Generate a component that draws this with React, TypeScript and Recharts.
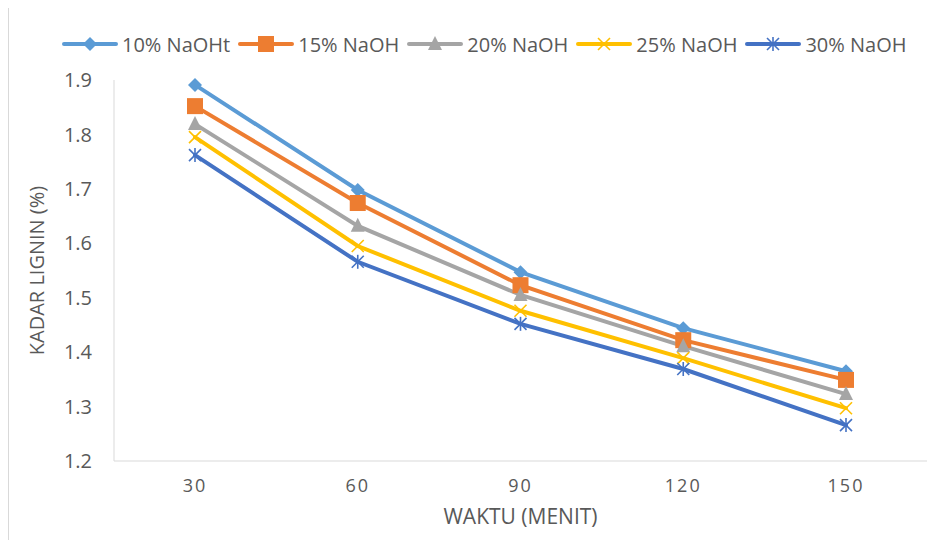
import React from "react";
import { LineChart, Line, XAxis, YAxis } from "recharts";

const minutes = ["30", "60", "90", "120", "150"];
const naoh10 = [1.891, 1.698, 1.547, 1.444, 1.365];
const naoh15 = [1.852, 1.674, 1.523, 1.422, 1.349];
const naoh20 = [1.819, 1.632, 1.505, 1.411, 1.323];
const naoh25 = [1.795, 1.595, 1.476, 1.389, 1.297];
const naoh30 = [1.762, 1.566, 1.452, 1.369, 1.266];
const yTicks = [1.2, 1.3, 1.4, 1.5, 1.6, 1.7, 1.8, 1.9];

const data = minutes.map((m, i) => ({
    waktu: m,
    s10: naoh10[i],
    s15: naoh15[i],
    s20: naoh20[i],
    s25: naoh25[i],
    s30: naoh30[i],
}));

const FONT = "'Open Sans', sans-serif";
const TEXT = "#595959";

type Shape = "diamond" | "square" | "triangle" | "x" | "star";

const series: { key: string; name: string; color: string; shape: Shape }[] = [
    { key: "s10", name: "10% NaOHt", color: "#5B9BD5", shape: "diamond" },
    { key: "s15", name: "15% NaOH", color: "#ED7D31", shape: "square" },
    { key: "s20", name: "20% NaOH", color: "#A5A5A5", shape: "triangle" },
    { key: "s25", name: "25% NaOH", color: "#FFC000", shape: "x" },
    { key: "s30", name: "30% NaOH", color: "#4472C4", shape: "star" },
];

function Marker({ cx, cy, shape, color }: { cx: number; cy: number; shape: Shape; color: string }) {
    if (shape === "diamond") {
        const r = 7;
        return <polygon points={`${cx},${cy - r} ${cx + r},${cy} ${cx},${cy + r} ${cx - r},${cy}`} fill={color} />;
    }
    if (shape === "square") {
        return <rect x={cx - 8} y={cy - 8} width={16} height={16} fill={color} />;
    }
    if (shape === "triangle") {
        return <polygon points={`${cx},${cy - 8} ${cx + 7},${cy + 6} ${cx - 7},${cy + 6}`} fill={color} />;
    }
    if (shape === "x") {
        return (
            <g stroke={color} strokeWidth={1.6}>
                <line x1={cx - 6} y1={cy - 6} x2={cx + 6} y2={cy + 6} />
                <line x1={cx - 6} y1={cy + 6} x2={cx + 6} y2={cy - 6} />
            </g>
        );
    }
    return (
        <g stroke={color} strokeWidth={1.6}>
            <line x1={cx - 6} y1={cy - 6} x2={cx + 6} y2={cy + 6} />
            <line x1={cx - 6} y1={cy + 6} x2={cx + 6} y2={cy - 6} />
            <line x1={cx} y1={cy - 7} x2={cx} y2={cy + 7} />
        </g>
    );
}

function LegendRow() {
    return (
        <div
            style={{
                position: "absolute",
                top: 30,
                left: 62,
                display: "flex",
                fontFamily: FONT,
                fontSize: 20,
                color: TEXT,
                whiteSpace: "nowrap",
            }}
        >
            {series.map((s) => (
                <div key={s.key} style={{ display: "flex", alignItems: "center", marginRight: 8 }}>
                    <svg width={56} height={28} style={{ marginRight: 4 }}>
                        <line x1={2} y1={14} x2={54} y2={14} stroke={s.color} strokeWidth={4} strokeLinecap="round" />
                        <Marker cx={28} cy={14} shape={s.shape} color={s.color} />
                    </svg>
                    <span>{s.name}</span>
                </div>
            ))}
        </div>
    );
}

export default function App() {
    return (
        <div style={{ position: "relative", margin: -8, width: 949, height: 548, background: "#fff" }}>
            <div style={{ position: "absolute", left: 8, top: 0, width: 1, height: 548, background: "#d9d9d9" }} />
            <LineChart width={949} height={548} data={data} margin={{ top: 80, right: 22, bottom: 57, left: 10 }}>
                <XAxis
                    dataKey="waktu"
                    height={30}
                    padding={{ left: 81, right: 81 }}
                    axisLine={{ stroke: "#d9d9d9" }}
                    tickLine={false}
                    tickSize={0}
                    tickMargin={18}
                    tick={{ fill: TEXT, fontSize: 18, fontFamily: FONT, letterSpacing: 2 }}
                    label={{
                        value: "WAKTU (MENIT)",
                        position: "bottom",
                        offset: 18,
                        style: { fill: TEXT, fontSize: 21, fontFamily: FONT },
                    }}
                />
                <YAxis
                    width={104}
                    domain={[1.2, 1.9]}
                    ticks={yTicks}
                    interval={0}
                    axisLine={{ stroke: "#d9d9d9" }}
                    tickLine={false}
                    tickSize={0}
                    tickMargin={22}
                    tickFormatter={(v: number) => v.toFixed(1)}
                    tick={{ fill: TEXT, fontSize: 20, fontFamily: FONT }}
                    label={{
                        value: "KADAR LIGNIN (%)",
                        angle: -90,
                        position: "insideLeft",
                        offset: 27,
                        style: { fill: TEXT, fontSize: 20, fontFamily: FONT, textAnchor: "middle" },
                    }}
                />
                {series.map((s) => (
                    <Line
                        key={s.key}
                        type="linear"
                        dataKey={s.key}
                        name={s.name}
                        stroke={s.color}
                        strokeWidth={4}
                        strokeLinecap="round"
                        isAnimationActive={false}
                        dot={(p: any) => <Marker key={`${s.key}-${p.index}`} cx={p.cx} cy={p.cy} shape={s.shape} color={s.color} />}
                        activeDot={false}
                    />
                ))}
            </LineChart>
            <LegendRow />
        </div>
    );
}
